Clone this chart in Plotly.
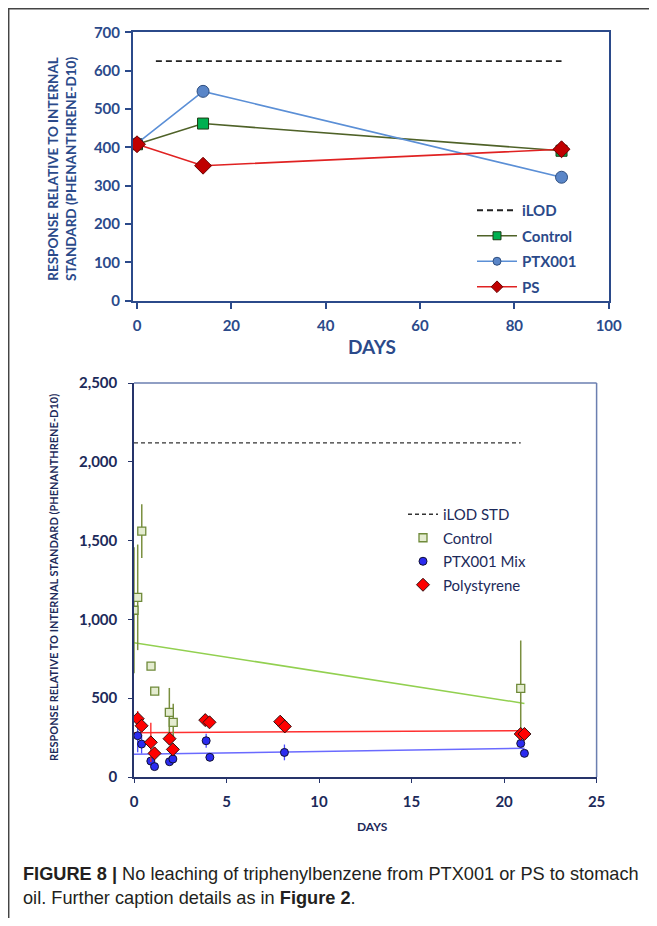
import plotly.graph_objects as go

PAGE_W, PAGE_H = 657, 926
OFF = 8  # browser body margin
W, H = PAGE_W - 2 * OFF, PAGE_H - 2 * OFF

# ---------------- data: top chart ----------------
top_days = [0, 14, 90]
top_control = [408, 462, 391]
top_ptx001 = [410, 546, 322]
top_ps = [408, 352, 395]
top_ilod_days = [4, 90]
top_ilod = [625, 625]
top_xticks = [0, 20, 40, 60, 80, 100]
top_yticks = [0, 100, 200, 300, 400, 500, 600, 700]

# ---------------- data: bottom chart ----------------
ctrl_days = [0, 0.2, 0.42, 0.92, 1.12, 1.91, 2.12, 20.9]
ctrl_vals = [1058, 1140, 1560, 703, 545, 410, 346, 562]
ctrl_err = [400, 335, 170, 0, 0, 155, 118, 304]

ptx_days = [0.2, 0.41, 0.91, 1.11, 1.92, 2.1, 3.9, 4.1, 8.13, 20.9, 21.1]
ptx_vals = [262, 209, 101, 66, 97, 114, 230, 125, 156, 213, 150]
ptx_err = [105, 60, 0, 0, 0, 0, 45, 0, 50, 0, 0]

ps_days = [0.2, 0.41, 0.91, 1.11, 1.92, 2.1, 3.85, 4.08, 7.9, 8.15, 20.9, 21.1]
ps_vals = [370, 325, 220, 150, 243, 175, 361, 347, 351, 321, 273, 273]
ps_err = [48, 0, 125, 40, 0, 0, 0, 0, 0, 0, 0, 0]

trend_days = [0, 21.1]
trend_control = [852, 467]
trend_ptx = [144, 182]
trend_ps = [281, 294]

ilod_std_days = [0, 20.9]
ilod_std = [2120, 2120]

bot_xticks = [0, 5, 10, 15, 20, 25]
bot_yticks = [0, 500, 1000, 1500, 2000, 2500]
bot_yticktext = ["0", "500", "1,000", "1,500", "2,000", "2,500"]


def px(x):
    return (x - OFF) / W


def py(y):
    return 1 - (y - OFF) / H


TOPBLUE = "#2b4a8a"
NAVY = "#1c2a5a"
FONT = "Lato"

fig = go.Figure()

# ---------- top chart traces ----------
top_styles = {
    "Control": dict(line=dict(color="#4f6228", width=1.6),
                    marker=dict(symbol="square", color="#00b050", line=dict(color="#1e3a12", width=1))),
    "PTX001": dict(line=dict(color="#5b8fd6", width=1.6),
                   marker=dict(symbol="circle", color="#5a86c8", line=dict(color="#2f4f80", width=1))),
    "PS": dict(line=dict(color="#e02222", width=1.6),
               marker=dict(symbol="diamond", color="#c00000", line=dict(color="#6a0000", width=1))),
}
top_sizes = {"Control": 11, "PTX001": 12, "PS": 13}
top_leg_sizes = {"Control": 8, "PTX001": 8, "PS": 9}
top_series = {"Control": top_control, "PTX001": top_ptx001, "PS": top_ps}

fig.add_trace(go.Scatter(x=top_ilod_days, y=top_ilod, mode="lines", name="iLOD",
                         line=dict(color="#222222", width=1.8, dash="6px,4px"),
                         xaxis="x", yaxis="y", legend="legend", legendgroup="a"))
for i, (name, vals) in enumerate(top_series.items()):
    st = top_styles[name]
    fig.add_trace(go.Scatter(x=top_days, y=vals, mode="lines+markers", name=name,
                             line=st["line"],
                             marker=dict(st["marker"], size=top_sizes[name]),
                             xaxis="x", yaxis="y", showlegend=False))
    # legend-only entry with smaller symbol, as in the original legend
    fig.add_trace(go.Scatter(x=[None], y=[None], mode="lines+markers", name=name,
                             line=st["line"],
                             marker=dict(st["marker"], size=top_leg_sizes[name]),
                             xaxis="x", yaxis="y", legend="legend", legendgroup="t" + str(i)))

# ---------- bottom chart traces ----------
fig.add_trace(go.Scatter(x=trend_days, y=trend_control, mode="lines", showlegend=False,
                         line=dict(color="#92d050", width=1.5), xaxis="x2", yaxis="y2"))
fig.add_trace(go.Scatter(x=trend_days, y=trend_ptx, mode="lines", showlegend=False,
                         line=dict(color="#6a6aff", width=1.5), xaxis="x2", yaxis="y2"))
fig.add_trace(go.Scatter(x=trend_days, y=trend_ps, mode="lines", showlegend=False,
                         line=dict(color="#ff3030", width=1.5), xaxis="x2", yaxis="y2"))

fig.add_trace(go.Scatter(x=ilod_std_days, y=ilod_std, mode="lines", name="iLOD STD",
                         line=dict(color="#333333", width=1.3, dash="4px,3px"),
                         xaxis="x2", yaxis="y2", legend="legend2", legendgroup="e"))
fig.add_trace(go.Scatter(x=ctrl_days, y=ctrl_vals, mode="markers", name="Control",
                         marker=dict(symbol="square", size=8, color="#e4ecd0",
                                     line=dict(color="#6f8a3a", width=1.3)),
                         error_y=dict(type="data", array=ctrl_err, visible=True,
                                      color="#7a8f3f", thickness=1.5, width=0),
                         xaxis="x2", yaxis="y2", legend="legend2", legendgroup="f"))
fig.add_trace(go.Scatter(x=ptx_days, y=ptx_vals, mode="markers", name="PTX001 Mix",
                         marker=dict(symbol="circle", size=8, color="#2b2bf0",
                                     line=dict(color="#111133", width=1)),
                         error_y=dict(type="data", array=ptx_err, visible=True,
                                      color="#4a4aff", thickness=1.3, width=0),
                         xaxis="x2", yaxis="y2", legend="legend2", legendgroup="g"))
fig.add_trace(go.Scatter(x=ps_days, y=ps_vals, mode="markers", name="Polystyrene",
                         marker=dict(symbol="diamond", size=10, color="#ff0000",
                                     line=dict(color="#331111", width=1)),
                         error_y=dict(type="data", array=ps_err, visible=True,
                                      color="#ff2020", thickness=1.3, width=0),
                         xaxis="x2", yaxis="y2", legend="legend2", legendgroup="h"))

tickfont_top = dict(family=FONT, size=15, color=TOPBLUE, weight="bold")
tickfont_bot = dict(family=FONT, size=15, color=NAVY, weight="bold")

fig.update_layout(
    width=W, height=H,
    margin=dict(l=0, r=0, t=0, b=0, autoexpand=False),
    paper_bgcolor="white", plot_bgcolor="white",
    font=dict(family=FONT),
    xaxis=dict(domain=[px(133), px(608.7)], range=[-0.85, 100], tickvals=top_xticks,
               showgrid=False, zeroline=False, showline=True, mirror=True,
               linecolor=TOPBLUE, linewidth=2, ticks="outside", ticklen=6,
               tickcolor=TOPBLUE, tickwidth=1.5, tickfont=tickfont_top,
               ticklabelstandoff=4, anchor="y"),
    yaxis=dict(domain=[py(300.7), py(32.3)], range=[0, 700], tickvals=top_yticks,
               showgrid=False, zeroline=False, showline=True, mirror=True,
               linecolor=TOPBLUE, linewidth=2, ticks="outside", ticklen=6,
               tickcolor=TOPBLUE, tickwidth=1.5, tickfont=tickfont_top,
               ticklabelstandoff=2, anchor="x"),
    xaxis2=dict(domain=[px(134), px(596.6)], range=[0, 25], tickvals=bot_xticks,
                showgrid=False, zeroline=False, showline=True,
                linecolor="#26346a", linewidth=1.5, ticks="outside", ticklen=4,
                tickcolor="#26346a", tickfont=tickfont_bot, ticklabelstandoff=6,
                anchor="y2"),
    yaxis2=dict(domain=[py(777), py(383)], range=[0, 2500], tickvals=bot_yticks,
                ticktext=bot_yticktext,
                showgrid=False, zeroline=False, showline=True,
                linecolor="#26346a", linewidth=1.5, ticks="outside", ticklen=4,
                tickcolor="#26346a", tickfont=tickfont_bot, ticklabelstandoff=8,
                anchor="x2"),
    legend=dict(x=px(472), y=py(194), xanchor="left", yanchor="top",
                bgcolor="rgba(0,0,0,0)", borderwidth=0,
                font=dict(family=FONT, size=15, color=TOPBLUE, weight="bold"),
                tracegroupgap=3, itemwidth=40),
    legend2=dict(x=px(403), y=py(498), xanchor="left", yanchor="top",
                 bgcolor="rgba(0,0,0,0)", borderwidth=0,
                 font=dict(family=FONT, size=15, color=NAVY),
                 tracegroupgap=1, itemwidth=30),
    shapes=[
        dict(type="line", xref="paper", yref="paper", x0=px(8), x1=1, y0=py(8.7), y1=py(8.7),
             line=dict(color="#444444", width=1.5)),
        dict(type="line", xref="paper", yref="paper", x0=px(8.7), x1=px(8.7), y0=py(8), y1=0,
             line=dict(color="#444444", width=1.5)),
        dict(type="line", xref="x2 domain", yref="y2 domain", x0=0, x1=1, y0=1, y1=1,
             line=dict(color="#6b7fb0", width=1.5)),
        dict(type="line", xref="x2 domain", yref="y2 domain", x0=1, x1=1, y0=0, y1=1,
             line=dict(color="#6b7fb0", width=1.5)),
    ],
    annotations=[
        dict(text="DAYS", xref="paper", yref="paper", x=px(372), y=py(346),
             xanchor="center", yanchor="middle", showarrow=False,
             font=dict(family=FONT, size=19, color=TOPBLUE, weight="bold")),
        dict(text="RESPONSE RELATIVE TO INTERNAL<br>STANDARD (PHENANTHRENE-D10)",
             xref="paper", yref="paper", x=px(62), y=py(169), textangle=-90,
             xanchor="center", yanchor="middle", showarrow=False,
             font=dict(family=FONT, size=13.5, color=TOPBLUE, weight="bold")),
        dict(text="DAYS", xref="paper", yref="paper", x=px(372), y=py(826),
             xanchor="center", yanchor="middle", showarrow=False,
             font=dict(family=FONT, size=12, color=NAVY, weight="bold")),
        dict(text="RESPONSE RELATIVE TO INTERNAL STANDARD (PHENANTHRENE-D10)",
             xref="paper", yref="paper", x=px(53), y=py(578), textangle=-90,
             xanchor="center", yanchor="middle", showarrow=False,
             font=dict(family=FONT, size=11, color=NAVY, weight="bold")),
        dict(text="<b>FIGURE 8 |</b> No leaching of triphenylbenzene from PTX001 or PS to stomach",
             xref="paper", yref="paper", x=px(21), y=py(874), xanchor="left", yanchor="middle",
             showarrow=False,
             font=dict(family="Liberation Sans", size=18.2, color="#231f20")),
        dict(text="oil. Further caption details as in <b>Figure 2</b>.",
             xref="paper", yref="paper", x=px(21), y=py(898), xanchor="left", yanchor="middle",
             showarrow=False,
             font=dict(family="Liberation Sans", size=18.2, color="#231f20")),
    ],
)

fig.write_html("out.html")
